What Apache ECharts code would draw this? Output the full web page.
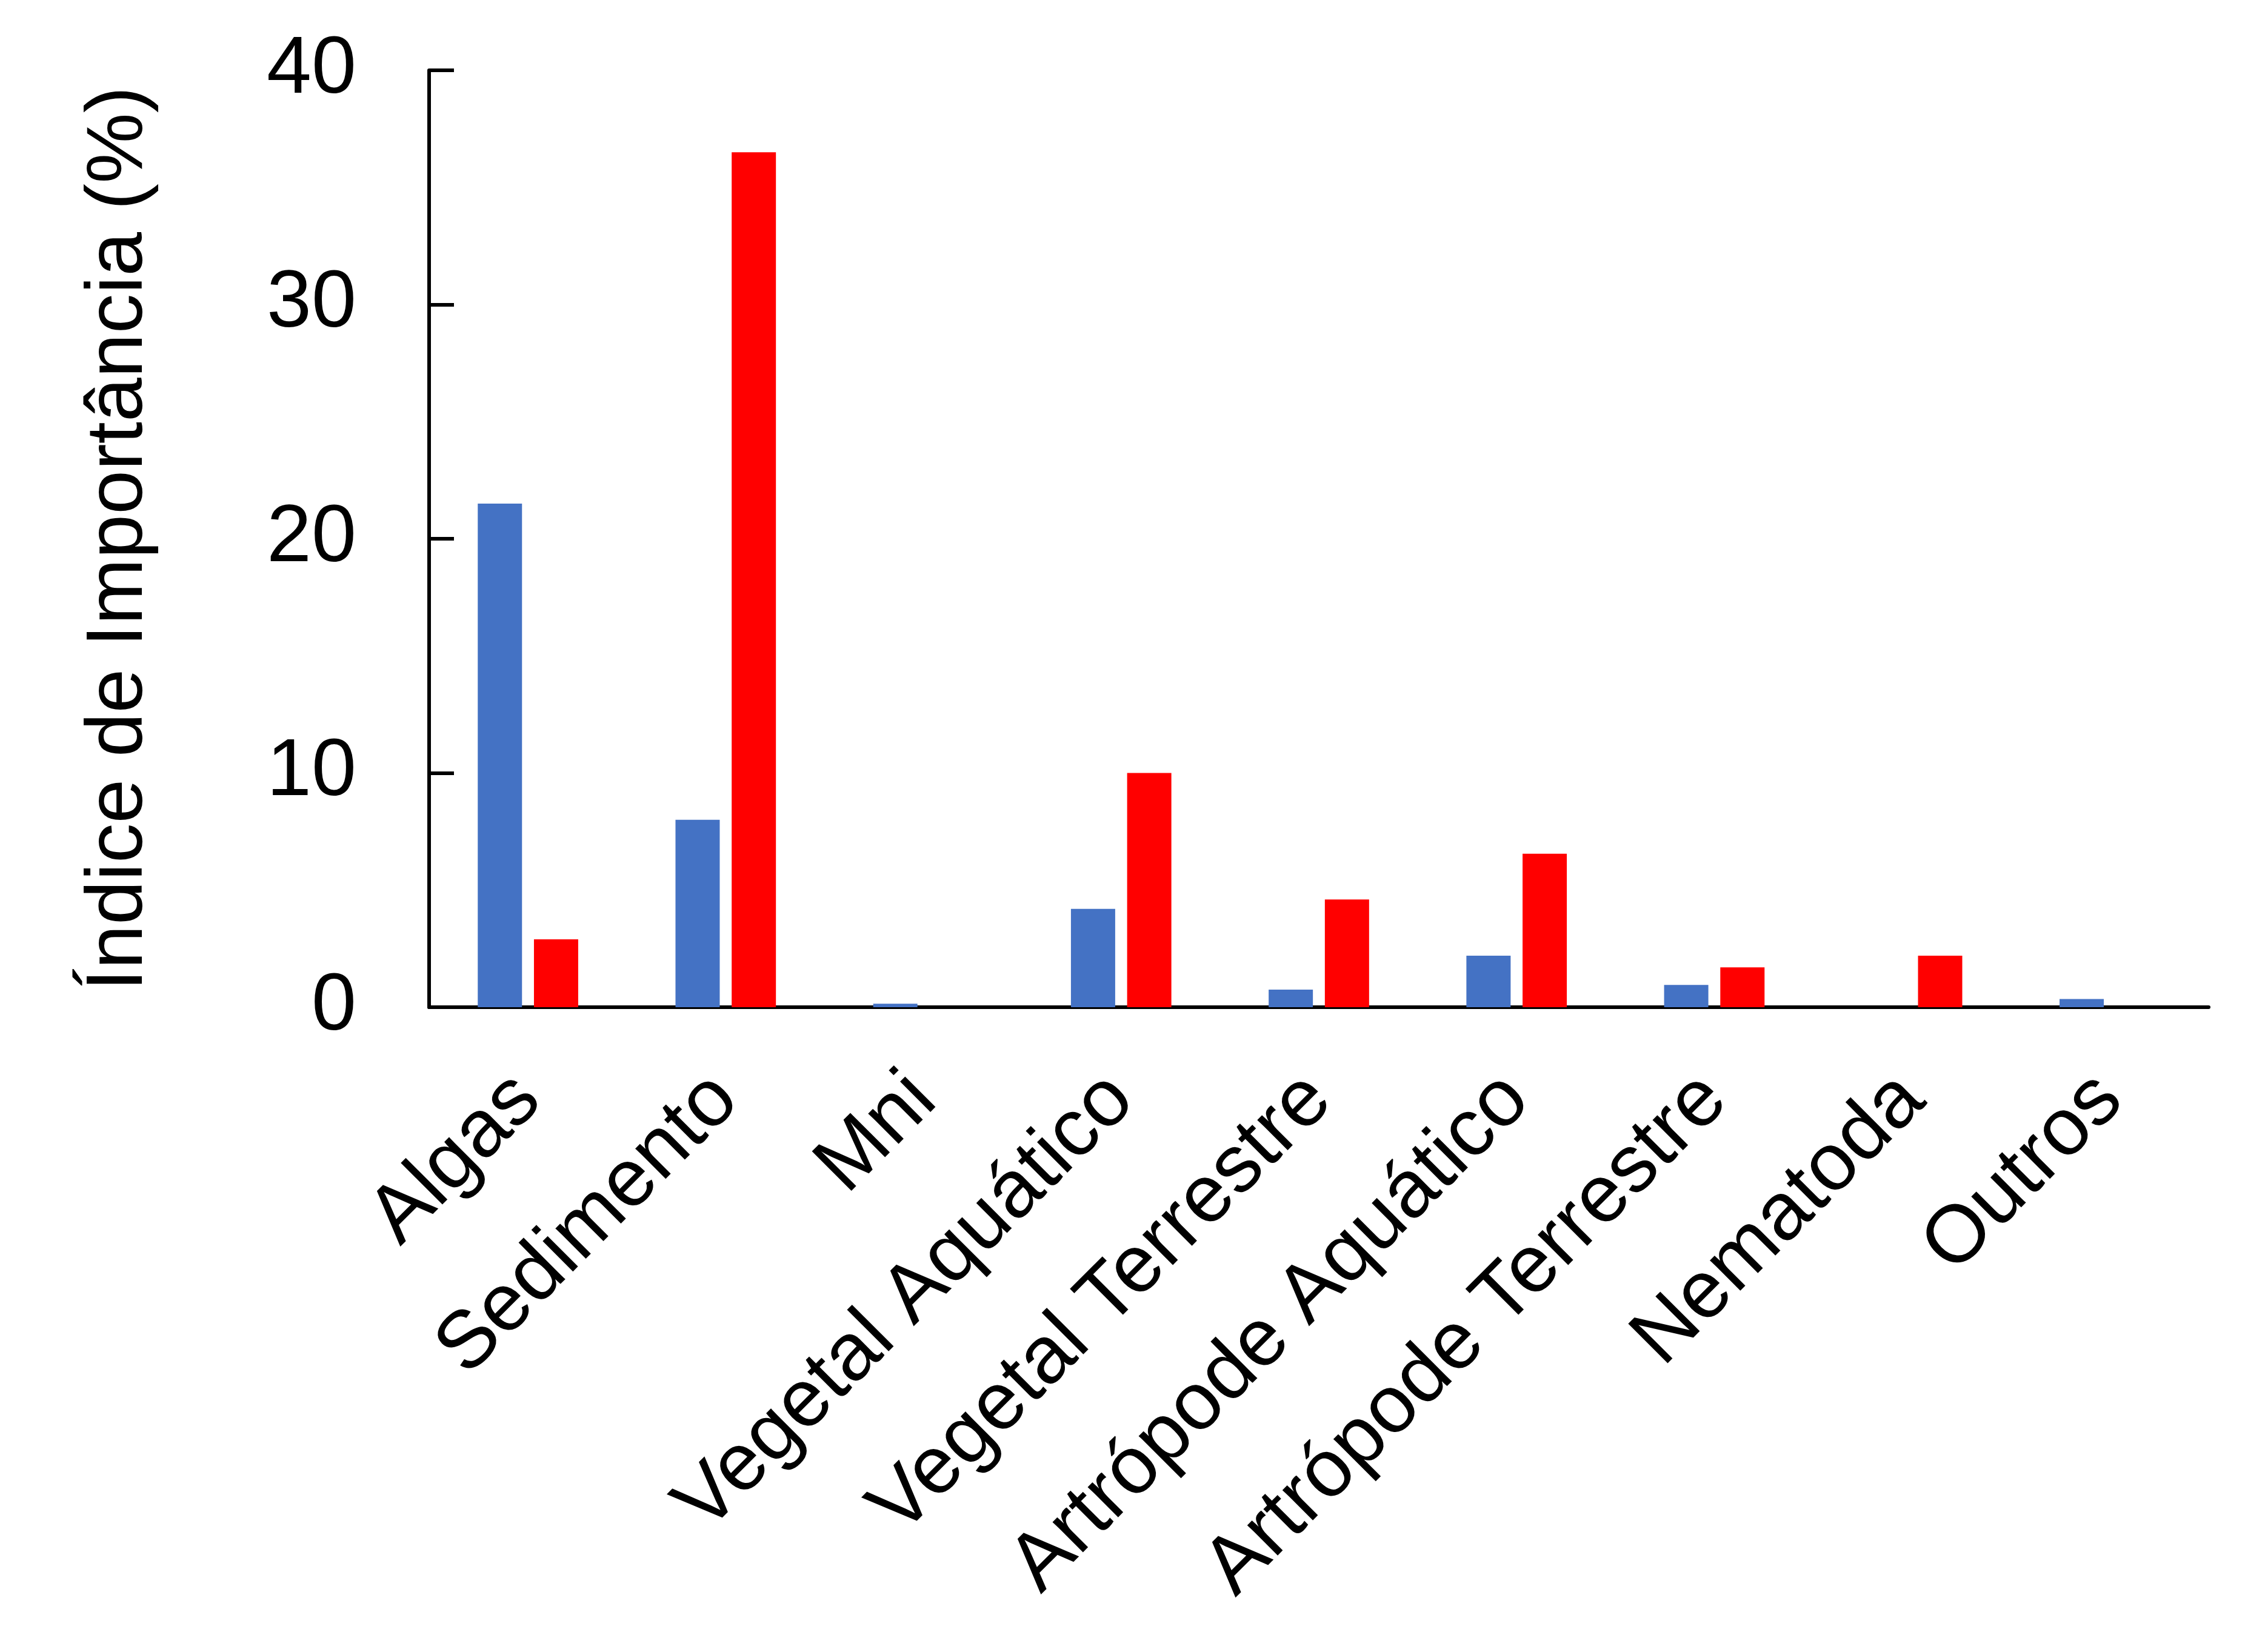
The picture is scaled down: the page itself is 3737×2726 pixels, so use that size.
<!DOCTYPE html>
<html>
<head>
<meta charset="utf-8">
<script src="https://cdn.jsdelivr.net/npm/echarts@6/dist/echarts.min.js"></script>
<style>
  html, body { margin: 0; padding: 0; background: #fff; }
  #chart { width: 3737px; height: 2726px; }
</style>
</head>
<body>
<div id="chart"></div>
<script>
// categorias e valores
var categorias = ['Algas', 'Sedimento', 'Mni', 'Vegetal Aquático', 'Vegetal Terrestre',
    'Artrópode Aquático', 'Artrópode Terrestre', 'Nematoda', 'Outros'];
var serieAzul = [21.5, 8.0, 0.15, 4.2, 0.75, 2.2, 0.95, 0, 0.35];
var serieVermelha = [2.9, 36.5, 0, 10.0, 4.6, 6.55, 1.7, 2.2, 0];
var yTicks = [0, 10, 20, 30, 40];

var fonte = 'Liberation Sans, Arial, sans-serif';

var myChart = echarts.init(document.getElementById('chart'));
myChart.setOption({
    animation: false,
    backgroundColor: '#ffffff',
    grid: {
        left: 708,
        right: 93,
        top: 116,
        bottom: 1064,
        containLabel: false
    },
    xAxis: {
        type: 'category',
        data: categorias,
        axisLine: { show: true, lineStyle: { color: '#000', width: 6 } },
        axisTick: { show: false },
        axisLabel: {
            rotate: 45,
            interval: 0,
            margin: 132,
            fontSize: 134,
            fontFamily: fonte,
            color: '#000'
        }
    },
    yAxis: {
        type: 'value',
        min: yTicks[0],
        max: yTicks[yTicks.length - 1],
        interval: 10,
        name: 'Índice de Importância (%)',
        nameLocation: 'middle',
        nameGap: 445,
        nameRotate: 90,
        nameTextStyle: { fontSize: 131, fontFamily: fonte, color: '#000' },
        splitLine: { show: false },
        axisLine: { show: true, lineStyle: { color: '#000', width: 6 } },
        axisTick: { show: true, inside: true, length: 41, lineStyle: { color: '#000', width: 6 } },
        axisLabel: {
            margin: 120,
            fontSize: 133,
            fontFamily: fonte,
            color: '#000'
        }
    },
    series: [
        {
            name: 'azul',
            type: 'bar',
            data: serieAzul,
            barWidth: 73,
            barGap: '27%',
            itemStyle: { color: '#4472C4' }
        },
        {
            name: 'vermelho',
            type: 'bar',
            data: serieVermelha,
            barWidth: 73,
            barGap: '27%',
            itemStyle: { color: '#FF0000' }
        }
    ]
});
</script>
</body>
</html>
